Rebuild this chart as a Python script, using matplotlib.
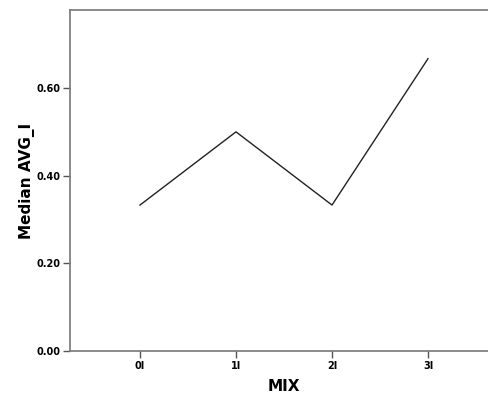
import matplotlib
matplotlib.use("Agg")
import matplotlib.pyplot as plt

# data
categories = ["0I", "1I", "2I", "3I"]
median_avg = [0.333, 0.50, 0.333, 0.667]
y_ticks = [0.0, 0.2, 0.4, 0.6]
y_labels = ["0.00", "0.20", "0.40", "0.60"]

fig = plt.figure(figsize=(4.88, 4.01), dpi=100)
# axes runs past the right edge, like the original export
ax = fig.add_axes([70 / 488, 1 - 351 / 401, 428 / 488, 341 / 401])

x = list(range(len(categories)))
ax.plot(x, median_avg, color="#222222", lw=1.0)

ax.set_xlim(-0.729, 3.729)
ax.set_ylim(0, 0.778)
ax.set_xticks(x)
ax.set_xticklabels(categories, fontsize=7, fontweight="bold")
ax.set_yticks(y_ticks)
ax.set_yticklabels(y_labels, fontsize=7, fontweight="bold")
ax.tick_params(direction="out", length=5, width=1, color="#555555", pad=2)

for side in ["left", "bottom", "top"]:
    ax.spines[side].set_color("#777777")
    ax.spines[side].set_linewidth(1.2)
ax.spines["right"].set_visible(False)

ax.set_xlabel("MIX", fontsize=11, fontweight="bold", labelpad=6)
ax.set_ylabel("Median AVG_I", fontsize=11, fontweight="bold", labelpad=1)

fig.savefig("out.png", dpi=100)
